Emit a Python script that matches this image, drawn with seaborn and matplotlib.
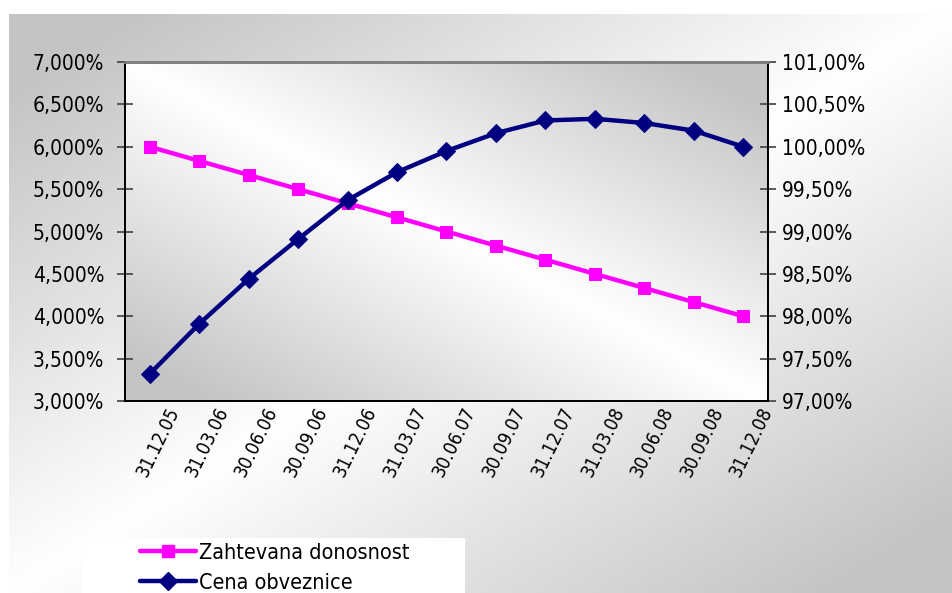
import numpy as np
import matplotlib
matplotlib.use("Agg")
import matplotlib.pyplot as plt
import matplotlib.transforms as mtransforms
from matplotlib.patches import Rectangle
from matplotlib.lines import Line2D
import seaborn as sns
import pandas as pd

# Quarterly dates
dates = ["31.12.05", "31.03.06", "30.06.06", "30.09.06", "31.12.06", "31.03.07",
         "30.06.07", "30.09.07", "31.12.07", "31.03.08", "30.06.08", "30.09.08", "31.12.08"]
# Required yield (%)
zahtevana_donosnost = [6.000, 5.833, 5.667, 5.500, 5.333, 5.167, 5.000,
                       4.833, 4.667, 4.500, 4.333, 4.167, 4.000]
# Bond price (% of par)
cena_obveznice = [97.32, 97.91, 98.44, 98.91, 99.37, 99.70, 99.95,
                  100.16, 100.31, 100.33, 100.28, 100.19, 100.00]

left_ticks = [3.0, 3.5, 4.0, 4.5, 5.0, 5.5, 6.0, 6.5, 7.0]
right_ticks = [97.0, 97.5, 98.0, 98.5, 99.0, 99.5, 100.0, 100.5, 101.0]
left_labels = ["3,000%", "3,500%", "4,000%", "4,500%", "5,000%", "5,500%", "6,000%", "6,500%", "7,000%"]
right_labels = ["97,00%", "97,50%", "98,00%", "98,50%", "99,00%", "99,50%", "100,00%", "100,50%", "101,00%"]

series_names = ["Zahtevana donosnost", "Cena obveznice"]

sns.set_theme(style="white")
plt.rcParams["font.family"] = ["DejaVu Sans"]
plt.rcParams["font.stretch"] = "condensed"
plt.rcParams["text.color"] = "black"
plt.rcParams["xtick.color"] = "black"
plt.rcParams["ytick.color"] = "black"

W, H = 953, 593
fig = plt.figure(figsize=(W / 100, H / 100), dpi=100)
fig.patch.set_facecolor("white")

GRAY = np.array([0.77, 0.77, 0.77])
WHITE = np.array([1.0, 1.0, 1.0])


def diag_gradient(nx, ny, flip, gain=1.15):
    u = np.linspace(0, 1, nx)[None, :]
    v = np.linspace(0, 1, ny)[:, None]
    t = ((1 - u) + v) / 2 if flip else (u + v) / 2
    k = np.clip(np.abs(2 * t - 1) * gain, 0, 1)[..., None]
    return WHITE * (1 - k) + GRAY * k


# chart-area background
bx0, by_top = 9 / W, 14 / H
bg = fig.add_axes([bx0, 0, 1 - bx0, 1 - by_top], zorder=-10)
bg.imshow(diag_gradient(400, 250, flip=False), aspect="auto", extent=[0, 1, 0, 1],
          interpolation="bilinear")
bg.set_axis_off()

# legend box
fig.patches.append(Rectangle((82 / W, 0), (465 - 82) / W, 55 / H, transform=fig.transFigure,
                             facecolor="white", edgecolor="none", zorder=-5))

# plot area
L, R, T, B = 125, 768, 62, 401
ax = fig.add_axes([L / W, 1 - B / H, (R - L) / W, (B - T) / H])
ax.set_facecolor("none")
ax.imshow(diag_gradient(400, 250, flip=True), aspect="auto", extent=[-0.5, 12.5, 3.0, 7.0],
          interpolation="bilinear", zorder=0)

x = np.arange(len(dates))
df_y = pd.DataFrame({"x": x, "val": zahtevana_donosnost})
df_p = pd.DataFrame({"x": x, "val": cena_obveznice})

sns.lineplot(data=df_y, x="x", y="val", ax=ax, color="#FF00FF", linewidth=3.2,
             marker="s", markersize=9, markeredgecolor="#FF00FF", zorder=3)
ax.set_xlim(-0.5, 12.5)
ax.set_ylim(3.0, 7.0)

ax2 = ax.twinx()
sns.lineplot(data=df_p, x="x", y="val", ax=ax2, color="#000080", linewidth=3.2,
             marker="D", markersize=9, markeredgecolor="#000080", zorder=3)
ax2.set_ylim(97.0, 101.0)
ax2.set_xlim(-0.5, 12.5)

for a in (ax, ax2):
    a.set_xlabel("")
    a.set_ylabel("")
    a.grid(False)
    for s in a.spines.values():
        s.set_color("black")
        s.set_linewidth(1.3)
    a.spines["top"].set_color("#808080")
    a.spines["top"].set_linewidth(2)

ax.set_yticks(left_ticks)
ax.set_yticklabels(left_labels)
ax2.set_yticks(right_ticks)
ax2.set_yticklabels(right_labels)

# category boundaries carry the tick marks, centres carry the labels
ax.set_xticks(x)
ax.set_xticklabels(dates)
ax.set_xticks(np.arange(-0.5, 13, 1.0), minor=True)
ax.tick_params(axis="x", which="major", length=0, pad=2)
ax.tick_params(axis="x", which="minor", direction="inout", length=12, width=1.2, color="black")
ax.tick_params(axis="y", direction="inout", length=12, width=1.2, color="#404040", pad=9,
               labelsize=15, labelcolor="black", left=True)
ax2.tick_params(axis="y", direction="inout", length=12, width=1.2, color="#404040", pad=4,
                labelsize=15, labelcolor="black", right=True)

offset = mtransforms.ScaledTranslation(8 / 100, 0, fig.dpi_scale_trans)
for lab in ax.get_xticklabels():
    lab.set_rotation(64)
    lab.set_ha("center")
    lab.set_va("top")
    lab.set_fontsize(13.5)
    lab.set_color("black")
    lab.set_transform(lab.get_transform() + offset)

if ax.get_legend():
    ax.get_legend().remove()
if ax2.get_legend():
    ax2.get_legend().remove()

handles = [
    Line2D([0], [0], color="#FF00FF", lw=3.2, marker="s", markersize=9),
    Line2D([0], [0], color="#000080", lw=3.2, marker="D", markersize=9),
]
fig.legend(handles, series_names, loc="upper left", bbox_to_anchor=(140 / W, 1 - 543 / H),
           frameon=False, fontsize=15.5, handlelength=2.6, handletextpad=0.15,
           labelspacing=0.45, borderaxespad=0, borderpad=0)

fig.savefig("out.png", dpi=100, facecolor=fig.get_facecolor())
